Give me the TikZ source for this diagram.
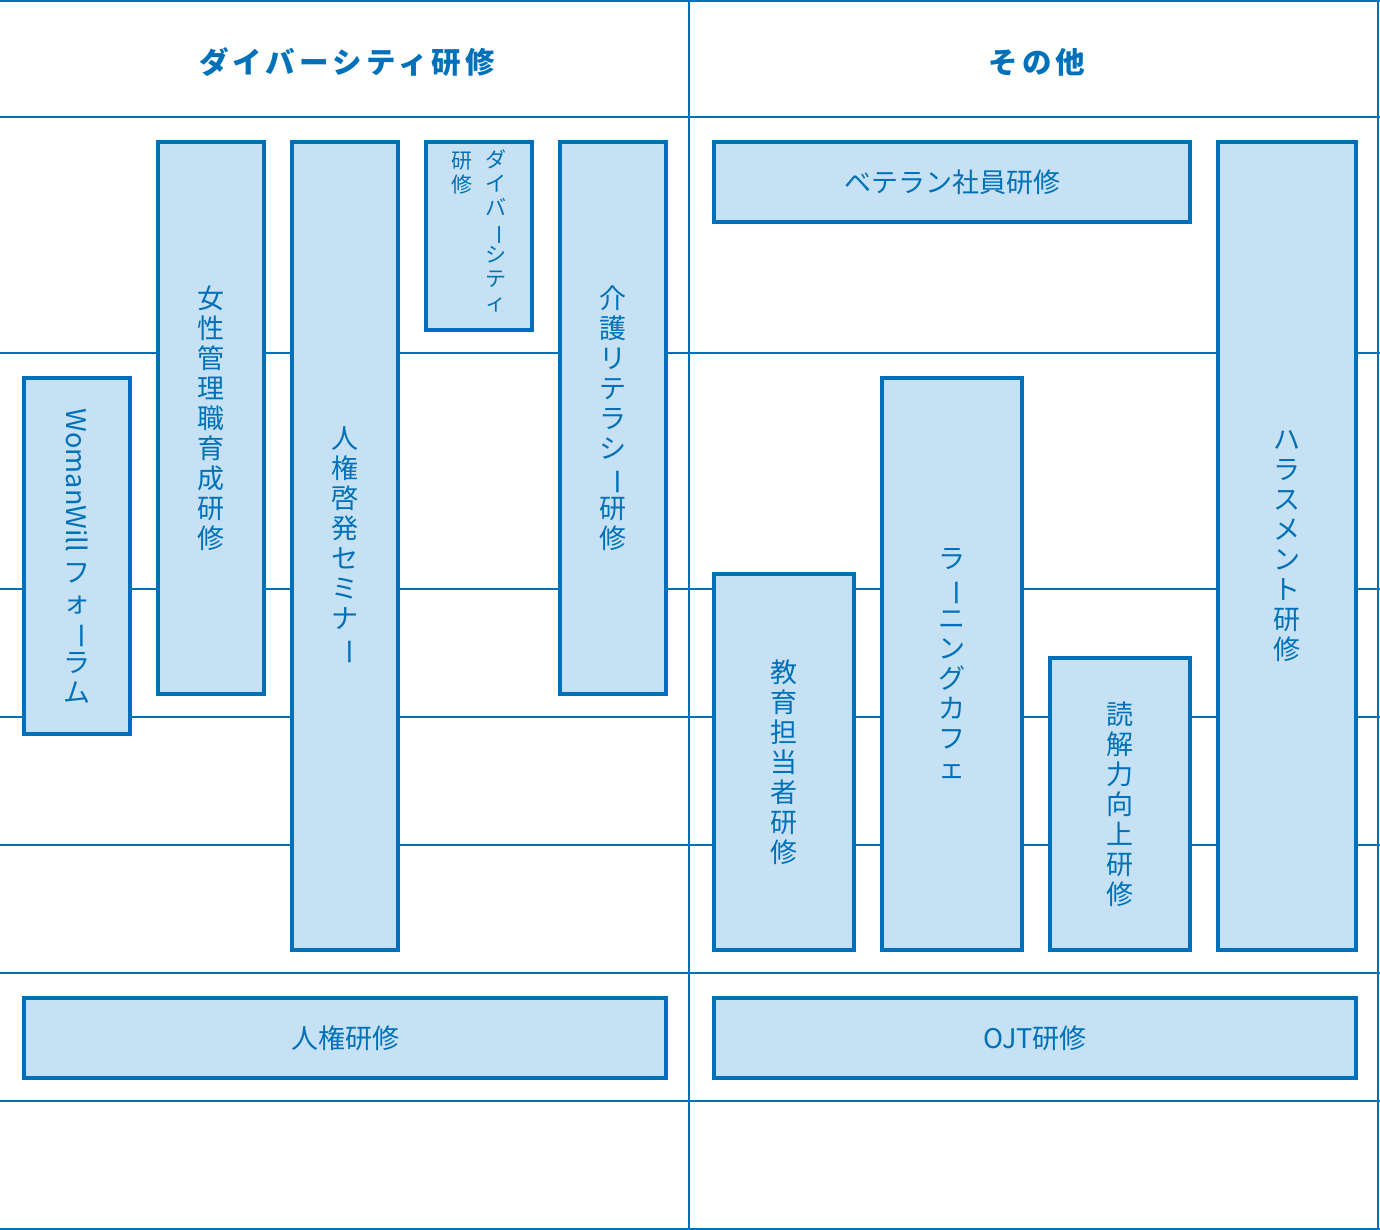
\documentclass[tikz,border=0pt]{standalone}
\usepackage{fontspec}
\usepackage{graphicx}
\setmainfont{Noto Sans CJK JP}
\newfontfamily\headfont[LetterSpace=14]{Noto Sans CJK JP}
\definecolor{lineblue}{HTML}{0071B9}
\definecolor{boxfill}{HTML}{C6E1F3}
\newcommand\vbar{\rotatebox[origin=c]{-90}{ー}}
\tikzset{
  grid/.style={draw=lineblue, line width=2pt},
  box/.style={draw=lineblue, fill=boxfill, line width=4pt, inner sep=0pt, text=lineblue,
    font=\fontsize{27}{30}\selectfont, align=center},
  vtext/.style={text=lineblue, inner sep=0pt, align=center},
  head/.style={text=lineblue, font=\headfont\bfseries\fontsize{29.5}{32}\selectfont}
}
\begin{document}
\begin{tikzpicture}[x=1pt,y=-1pt]
\useasboundingbox (0,0) rectangle (1380,1230);
% grid
\foreach \yy in {1,117,353,589,717,845,973,1101,1229}
  \draw[grid] (0,\yy) -- (1380,\yy);
\draw[grid] (689,0) -- (689,1230);
\draw[grid] (1378,0) -- (1378,1230);
% headings
\node[head] (h1) at (347,62) {ダイバーシティ研修};
\node[head] (h2) at (1037,62) {その他};
% left column boxes
\node[box, minimum width=106pt, minimum height=356pt] (ww) at (77,556)
  {\rotatebox[origin=c]{-90}{WomanWill}\\[10pt]フ\\ォ\\\vbar\\ラ\\ム};
\node[box, minimum width=106pt, minimum height=552pt] (jo) at (211,418)
  {女\\性\\管\\理\\職\\育\\成\\研\\修};
\node[box, minimum width=106pt, minimum height=808pt] (jk) at (345,546)
  {人\\権\\啓\\発\\セ\\ミ\\ナ\\\vbar};
\node[box, minimum width=106pt, minimum height=188pt] (dv) at (479,236) {};
\node[vtext, anchor=north, font=\fontsize{21}{23.7}\selectfont] (dv1) at (496,150)
  {ダ\\イ\\バ\\\vbar\\シ\\テ\\ィ};
\node[vtext, anchor=north, font=\fontsize{21}{23.7}\selectfont] (dv2) at (462,152)
  {研\\修};
\node[box, minimum width=106pt, minimum height=552pt] (kg) at (613,418)
  {介\\護\\リ\\テ\\ラ\\シ\\\vbar\\研\\修};
% right column boxes
\node[box, minimum width=476pt, minimum height=80pt] (vt) at (952,182) {ベテラン社員研修};
\node[box, minimum width=138pt, minimum height=808pt] (hr) at (1287,546)
  {ハ\\ラ\\ス\\メ\\ン\\ト\\研\\修};
\node[box, minimum width=140pt, minimum height=376pt] (ky) at (784,762)
  {教\\育\\担\\当\\者\\研\\修};
\node[box, minimum width=140pt, minimum height=572pt] (lc) at (952,664)
  {ラ\\\vbar\\ニ\\ン\\グ\\カ\\フ\\ェ};
\node[box, minimum width=140pt, minimum height=292pt] (dk) at (1120,804)
  {読\\解\\力\\向\\上\\研\\修};
% bottom boxes
\node[box, minimum width=642pt, minimum height=80pt] (jkk) at (345,1038) {人権研修};
\node[box, minimum width=642pt, minimum height=80pt] (ojt) at (1035,1038) {OJT研修};
\end{tikzpicture}
\end{document}
